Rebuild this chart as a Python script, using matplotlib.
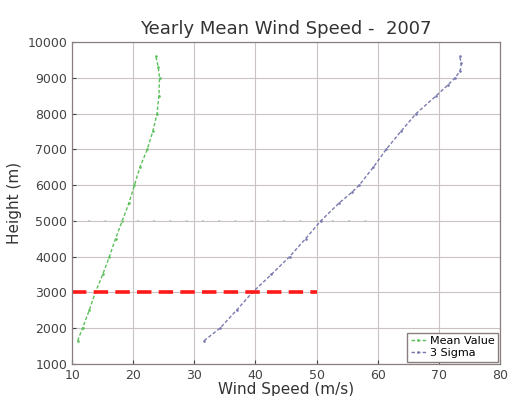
import numpy as np
import matplotlib.pyplot as plt

# ── Data ──────────────────────────────────────────────────────────────────────
HEIGHT_MEAN = [1650, 2000, 2500, 3000, 3500, 4000, 4500, 5000, 5500, 6000,
               6500, 7000, 7500, 8000, 8500, 9000, 9300, 9600]
MEAN_SPEED  = [10.9, 11.7, 12.8, 13.8, 15.0, 16.1, 17.1, 18.2, 19.3, 20.2,
               21.1, 22.3, 23.2, 23.9, 24.2, 24.3, 24.1, 23.7]

HEIGHT_SIG  = [1650, 2000, 2500, 3000, 3500, 4000, 4500, 5000, 5500, 5800,
               6000, 6500, 7000, 7500, 8000, 8500, 8800, 9000, 9200, 9400, 9600]
SIGMA_SPEED = [31.6, 34.2, 36.9, 39.5, 42.6, 45.6, 48.2, 50.7, 53.7, 55.8,
               57.0, 59.3, 61.4, 63.8, 66.3, 69.6, 71.5, 72.7, 73.5, 73.7, 73.4]

RED_LEVEL   = 3000
RED_SPAN    = [10, 50]
GRAY_LEVEL  = 5000
GRAY_SPAN   = [10, 60]

X_TICKS = list(range(10, 81, 10))
Y_TICKS = list(range(1000, 10001, 1000))

# ── Figure ────────────────────────────────────────────────────────────────────
fig = plt.figure(figsize=(5.08, 3.96), dpi=100)
ax = fig.add_axes([0.142, 0.081, 0.842, 0.813])

frame_col = "#8a7f7f"
grid_col = "#cbc3c3"

ax.plot(MEAN_SPEED, HEIGHT_MEAN, color="#5cc05c", ls=(0, (2.5, 1.5)), lw=1.0,
        marker=".", ms=1.8, label="Mean Value")
ax.plot(SIGMA_SPEED, HEIGHT_SIG, color="#7a7ab0", ls=(0, (2.5, 1.5)), lw=1.0,
        marker=".", ms=1.8, label="3 Sigma")

ax.plot(RED_SPAN, [RED_LEVEL, RED_LEVEL], color="#ff1a1a", lw=2.6,
        ls=(0, (4, 2)))
ax.plot(GRAY_SPAN, [GRAY_LEVEL, GRAY_LEVEL], color="#c0c0c0", lw=1.3,
        ls=(0, (1, 8)))

ax.set_xlim(10, 80)
ax.set_ylim(1000, 10000)
ax.set_xticks(X_TICKS)
ax.set_yticks(Y_TICKS)
ax.tick_params(labelsize=9, colors="#444444", length=3, direction="in")
ax.grid(True, color=grid_col, lw=0.8)
for sp in ax.spines.values():
    sp.set_color(frame_col)
    sp.set_linewidth(0.9)

ax.set_title("Yearly Mean Wind Speed -  2007", fontsize=13, color="#333333",
             pad=6)
ax.set_xlabel("Wind Speed (m/s)", fontsize=11, color="#333333", labelpad=0)
ax.set_ylabel("Height (m)", fontsize=11, color="#333333", labelpad=4)

leg = ax.legend(loc="lower right", fontsize=8, handlelength=1.4,
                handletextpad=0.3, borderpad=0.3, labelspacing=0.2,
                fancybox=False, framealpha=1, borderaxespad=0.2)
leg.get_frame().set_edgecolor(frame_col)

fig.savefig("out.png", dpi=100)
